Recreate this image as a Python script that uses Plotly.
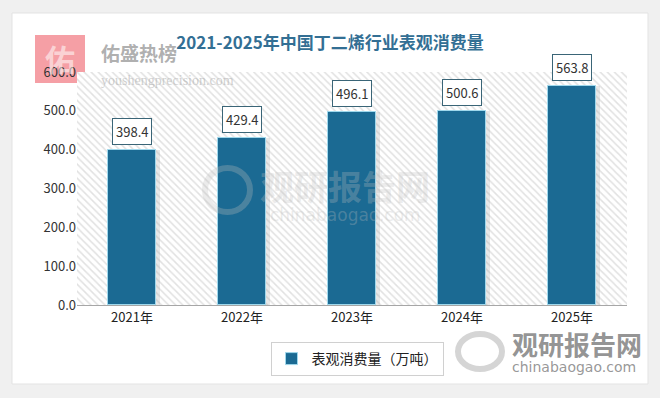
import plotly.graph_objects as go

categories = ["2021年", "2022年", "2023年", "2024年", "2025年"]
consumption = [398.4, 429.4, 496.1, 500.6, 563.8]
series_name = "表观消费量（万吨）"
title_text = "2021-2025年中国丁二烯行业表观消费量"
y_ticks = [0, 100, 200, 300, 400, 500, 600]

W, H = 660, 398
ML, MR, MT, MB = 77, 33, 72, 93
PW, PH = W - ML - MR, H - MT - MB
FONT = "Noto Sans CJK SC"

def px(x):
    return (x - ML) / PW

def py(y):
    return (H - MB - y) / PH

fig = go.Figure()

# hatched plot background
fig.add_trace(go.Bar(
    x=[categories[2]], y=[y_ticks[-1]], width=[len(categories)],
    marker=dict(color="#ffffff", line=dict(width=0),
                pattern=dict(shape="\\", fgcolor="#c4c4c4", bgcolor="#ffffff",
                             size=5, solidity=0.3)),
    showlegend=False, hoverinfo="skip",
))

# bar shadows
fig.add_trace(go.Bar(
    x=categories, y=consumption, width=0.45, offset=-0.2,
    marker=dict(color="rgba(150,150,150,0.22)", line=dict(width=0)),
    showlegend=False, hoverinfo="skip",
))

fig.add_trace(go.Bar(
    x=categories, y=consumption, width=0.43, name=series_name,
    marker=dict(color="#1b6a93", line=dict(color="#9fd8ec", width=1)),
))

for c, v in zip(categories, consumption):
    fig.add_annotation(
        x=c, y=v, text=f"{v:.1f}", showarrow=False, yanchor="bottom", yshift=5,
        font=dict(family=FONT, size=13, color="#333333"),
        bgcolor="#ffffff", bordercolor="#3a6577", borderwidth=1, borderpad=3,
    )

def note(x, y, text, size, color, family=FONT, xanchor="center"):
    fig.add_annotation(xref="paper", yref="paper", x=px(x), y=py(y), text=text,
                       xanchor=xanchor, yanchor="middle", showarrow=False,
                       font=dict(family=family, size=size, color=color))

# page card
fig.add_shape(type="rect", xref="paper", yref="paper",
              x0=px(12), x1=px(648), y0=py(384), y1=py(13),
              fillcolor="#ffffff", line=dict(color="#e3e3e3", width=1), layer="below")

# watermark logo (top-left)
fig.add_shape(type="rect", xref="paper", yref="paper",
              x0=px(35), x1=px(85), y0=py(83), y1=py(35),
              fillcolor="rgba(242,135,142,0.8)", line=dict(width=0), layer="below")
note(60, 58, "<b>佑</b>", 30, "rgba(255,255,255,0.55)")
note(99, 53, "<b>佑盛热榜</b>", 19, "rgba(150,150,150,0.75)", xanchor="left")
note(99, 80, "youshengprecision.com", 14, "rgba(175,175,175,0.6)",
     family="Liberation Sans Narrow", xanchor="left")

# center watermark
note(345, 185, "<b>观研报告网</b>", 34, "rgba(190,190,190,0.3)")
note(345, 215, "chinabaogao.com", 17, "rgba(190,190,190,0.3)", family="DejaVu Sans")
fig.add_shape(type="circle", xref="paper", yref="paper",
              x0=px(205), x1=px(250), y0=py(212), y1=py(168),
              line=dict(color="rgba(190,190,190,0.3)", width=6), layer="above")

# bottom-right watermark
note(577, 343, "<b>观研报告网</b>", 26, "rgba(120,120,120,0.8)")
note(574, 367, "chinabaogao.com", 14, "rgba(125,125,125,0.8)", family="DejaVu Sans")
fig.add_shape(type="circle", xref="paper", yref="paper",
              x0=px(458), x1=px(502), y0=py(369), y1=py(334),
              line=dict(color="rgba(185,185,185,0.6)", width=6), layer="above")

fig.update_layout(
    width=W, height=H,
    margin=dict(l=ML, r=MR, t=MT, b=MB),
    paper_bgcolor="#f0f0f0", plot_bgcolor="#ffffff",
    barmode="overlay", bargap=0,
    title=dict(text=f"<b>{title_text}</b>", x=330 / W, xanchor="center", y=1 - 43 / H, yanchor="middle",
               font=dict(family=FONT, size=17, color="#336f94")),
    font=dict(family=FONT, color="#333333"),
    xaxis=dict(type="category", categoryorder="array", categoryarray=categories,
               showgrid=False, showline=True, linecolor="#a6a6a6", linewidth=1,
               ticks="", tickfont=dict(family=FONT, size=13, color="#222222"),
               range=[-0.5, len(categories) - 0.5]),
    yaxis=dict(range=[0, y_ticks[-1]], tickvals=y_ticks, tickformat=".1f",
               showgrid=False, zeroline=False, showline=False, ticks="",
               tickfont=dict(family=FONT, size=13, color="#333333")),
    legend=dict(orientation="h", x=px(357), xanchor="center",
                y=py(342), yanchor="top", bgcolor="#ffffff", bordercolor="#d0d0d0", borderwidth=1,
                font=dict(family=FONT, size=14, color="#222222"), itemwidth=30),
    showlegend=True,
)

fig.write_html("out.html", config={"displayModeBar": False},
               post_script="document.body.style.margin='0';")
